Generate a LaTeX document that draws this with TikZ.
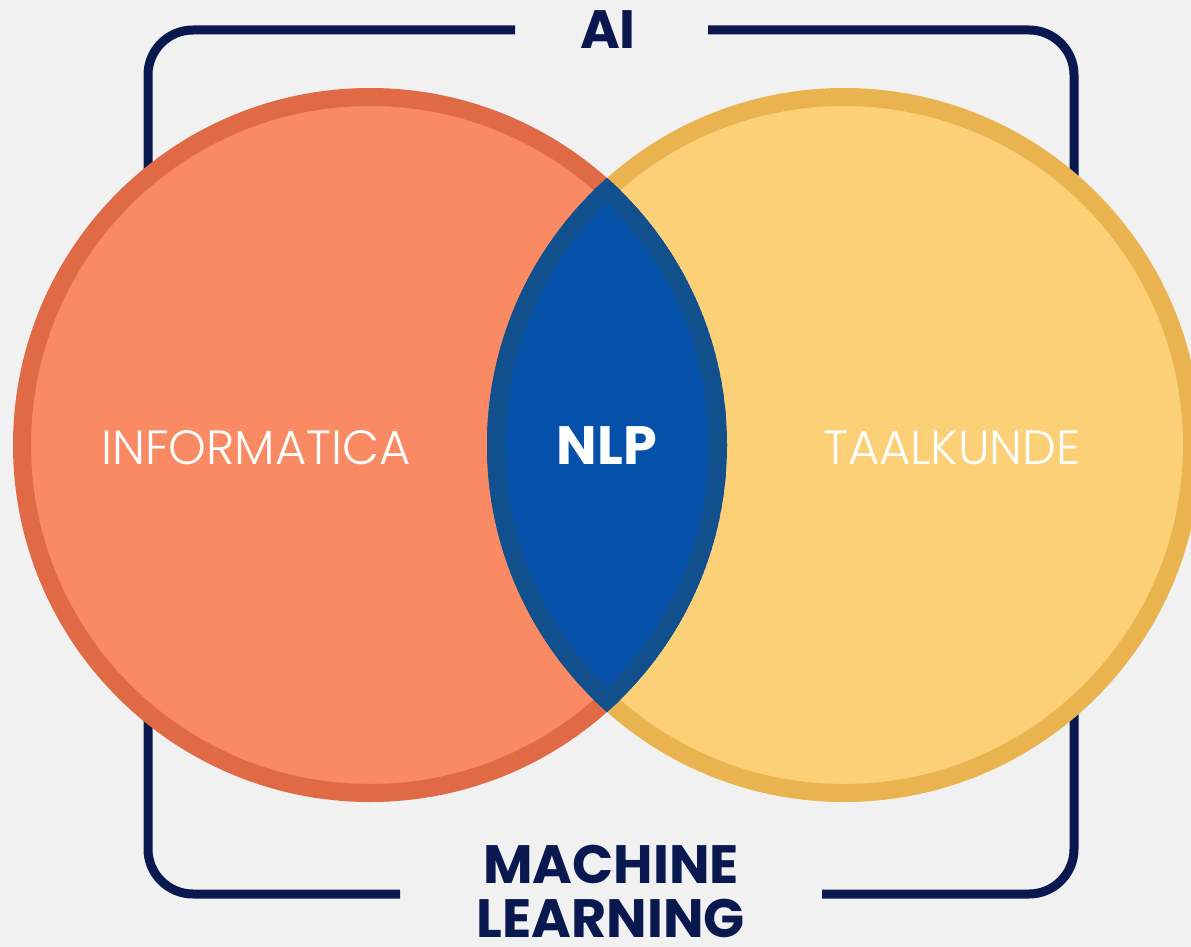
\documentclass[tikz,border=0pt]{standalone}
\usepackage{fontspec}
\setmainfont{Poppins}
\newfontfamily\thinfont{Poppins Light}
\definecolor{bg}{HTML}{F1F1F1}
\definecolor{navy}{HTML}{0A1850}
\definecolor{orfill}{HTML}{F98A63}
\definecolor{orline}{HTML}{E06A45}
\definecolor{yefill}{HTML}{FCD077}
\definecolor{yeline}{HTML}{E9B44F}
\definecolor{lensfill}{HTML}{0551A9}
\definecolor{lensring}{HTML}{124F8D}
\tikzset{
  frameline/.style={draw=navy, line width=9pt, rounded corners=45pt},
  ring/.style={line width=18pt},
  boldlabel/.style={text=navy, font=\fontsize{54}{55}\selectfont\bfseries, anchor=base, inner sep=0pt, align=center},
  thinlabel/.style={text=white, font=\fontsize{48}{48}\thinfont, anchor=base, inner sep=0pt}
}
\begin{document}
\begin{tikzpicture}[x=1pt, y=-1pt]
\useasboundingbox (0,0) rectangle (1191,947);
\fill[bg] (0,0) rectangle (1191,947);
% frame
\draw[frameline] (515,30) -- (148,30) -- (148,894) -- (400,894);
\draw[frameline] (708,30) -- (1074,30) -- (1074,894) -- (822,894);
% circles
\filldraw[fill=orfill, draw=orline, ring] (370,445) circle[radius=348];
\filldraw[fill=yefill, draw=yeline, ring] (844,445) circle[radius=348];
% lens
\begin{scope}
  \clip (370,445) circle[radius=357];
  \clip (844,445) circle[radius=357];
  \fill[lensfill] (0,0) rectangle (1191,947);
  \draw[lensring, ring] (370,445) circle[radius=348];
  \draw[lensring, ring] (844,445) circle[radius=348];
\end{scope}
% labels
\node[boldlabel] (ai) at (608,49) {AI};
\node[boldlabel] (ml1) at (611,883) {MACHINE};
\node[boldlabel] (ml2) at (611,937) {LEARNING};
\node[thinlabel] (inf) at (256,464) {INFORMATICA};
\node[thinlabel] (taal) at (952,464) {TAALKUNDE};
\node[boldlabel, text=white, font=\fontsize{54}{54}\selectfont\bfseries] (nlp) at (607,464) {NLP};
\end{tikzpicture}
\end{document}
